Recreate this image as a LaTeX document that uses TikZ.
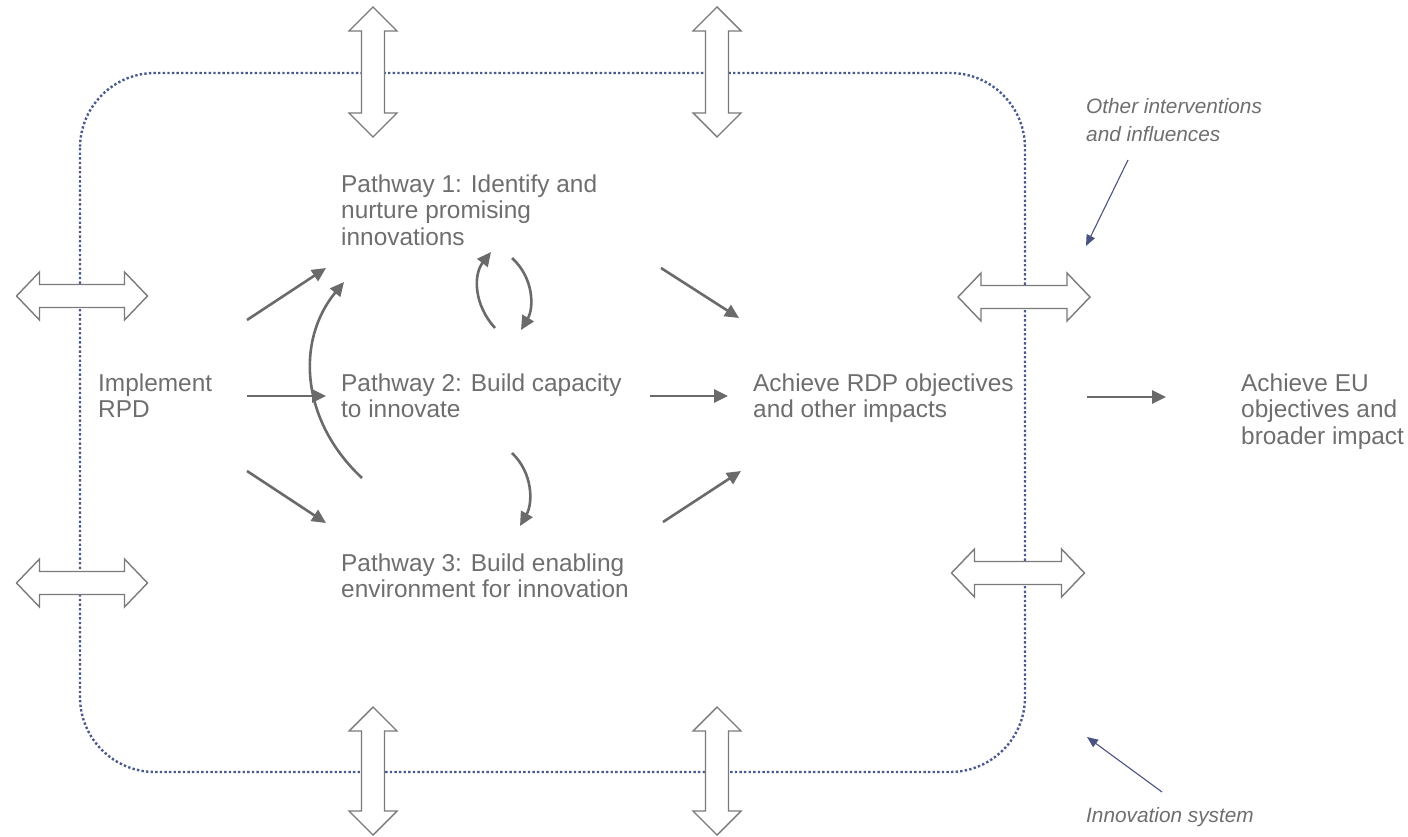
\documentclass[tikz,border=0pt]{standalone}
\usepackage{fontspec}
\setmainfont{Liberation Sans}
\usetikzlibrary{arrows.meta}
\definecolor{txt}{HTML}{6E6E6E}
\definecolor{arr}{HTML}{6A6A6A}
\definecolor{dotc}{HTML}{4B5A8C}
\definecolor{ann}{HTML}{4A5282}
\definecolor{dbl}{HTML}{7A7A7A}
\tikzset{
  lbl/.style={anchor=base west,align=left,inner sep=0pt,text=txt,font=\fontsize{24.4}{26.5}\selectfont},
  note/.style={lbl,font=\fontsize{20.8}{28}\selectfont\itshape},
  flow/.style={draw=arr,line width=2.6pt,-{Triangle[length=14pt,width=13pt]}},
  annarrow/.style={draw=ann,line width=1.1pt,-{Triangle[length=11pt,width=9pt]}},
  vda/.pic={\draw[dbl,line width=1.4pt,fill=white,line join=miter]
     (0,-#1/2) -- (24,-#1/2+24) -- (11.5,-#1/2+24) -- (11.5,#1/2-24) -- (24,#1/2-24) -- (0,#1/2)
     -- (-24,#1/2-24) -- (-11.5,#1/2-24) -- (-11.5,-#1/2+24) -- (-24,-#1/2+24) -- cycle;},
  hda/.pic={\draw[dbl,line width=1.4pt,fill=white,line join=miter]
     (-#1/2,0) -- (-#1/2+23,24) -- (-#1/2+23,11.5) -- (#1/2-23,11.5) -- (#1/2-23,24) -- (#1/2,0)
     -- (#1/2-23,-24) -- (#1/2-23,-11.5) -- (-#1/2+23,-11.5) -- (-#1/2+23,-24) -- cycle;}
}
\begin{document}
\begin{tikzpicture}[x=1pt,y=-1pt]
\useasboundingbox (0,0) rectangle (1408,837);
% innovation system boundary
\draw[dotc,line width=2.4pt,dash pattern=on 2.4pt off 2.2pt,rounded corners=75pt] (80,73) rectangle (1025,772);
% double arrows
\pic at (373,72) {vda=130};
\pic at (717,72) {vda=130};
\pic at (373,771) {vda=128};
\pic at (717,771) {vda=128};
\pic at (82,296) {hda=131};
\pic at (82,583) {hda=131};
\pic at (1024,297) {hda=132};
\pic at (1018,573) {hda=133};
% text nodes (anchor = baseline of last line)
\node[lbl] (rpd) at (98,417.5) {Implement\\RPD};
\node[lbl] (p1) at (341,245) {Pathway 1: Identify and\\nurture promising\\innovations};
\node[lbl] (p2) at (341,417.5) {Pathway 2: Build capacity\\to innovate};
\node[lbl] (p3) at (341,597.5) {Pathway 3: Build enabling\\environment for innovation};
\node[lbl] (rdp) at (753,417.5) {Achieve RDP objectives\\and other impacts};
\node[lbl] (eu) at (1241,444) {Achieve EU\\objectives and\\broader impact};
\node[note] (oth) at (1086,142) {Other interventions\\and influences};
\node[note] (ins) at (1086,822) {Innovation system};
% connector end points
\coordinate (a1s) at (247,320); \coordinate (a1e) at (326,268);
\coordinate (a2s) at (247,396); \coordinate (a2e) at (326,396);
\coordinate (a3s) at (247,471); \coordinate (a3e) at (326,523);
\coordinate (c31s) at (362,478); \coordinate (c31e) at (344,282);
\coordinate (l1s) at (495,328); \coordinate (l1e) at (491,252);
\coordinate (l2s) at (512,258); \coordinate (l2e) at (521,330);
\coordinate (l3s) at (512,453); \coordinate (l3e) at (520,526);
\coordinate (b1s) at (661,268); \coordinate (b1e) at (739,318);
\coordinate (b2s) at (650,396); \coordinate (b2e) at (728,396);
\coordinate (b3s) at (663,522); \coordinate (b3e) at (741,471);
\coordinate (es) at (1087,397); \coordinate (ee) at (1166,397);
\coordinate (n1s) at (1128,160); \coordinate (n1e) at (1086,246);
\coordinate (n2s) at (1162,792); \coordinate (n2e) at (1087,737);
% flows
\draw[flow] (a1s) -- (a1e);
\draw[flow] (a2s) -- (a2e);
\draw[flow] (a3s) -- (a3e);
\draw[flow] (c31s) .. controls (300,420) and (296,340) .. (c31e);
\draw[flow] (l1s) .. controls (474,305) and (473,275) .. (l1e);
\draw[flow] (l2s) .. controls (534,278) and (534,308) .. (l2e);
\draw[flow] (l3s) .. controls (533,473) and (533,503) .. (l3e);
\draw[flow] (b1s) -- (b1e);
\draw[flow] (b2s) -- (b2e);
\draw[flow] (b3s) -- (b3e);
\draw[flow] (es) -- (ee);
\draw[annarrow] (n1s) -- (n1e);
\draw[annarrow] (n2s) -- (n2e);
\end{tikzpicture}
\end{document}
